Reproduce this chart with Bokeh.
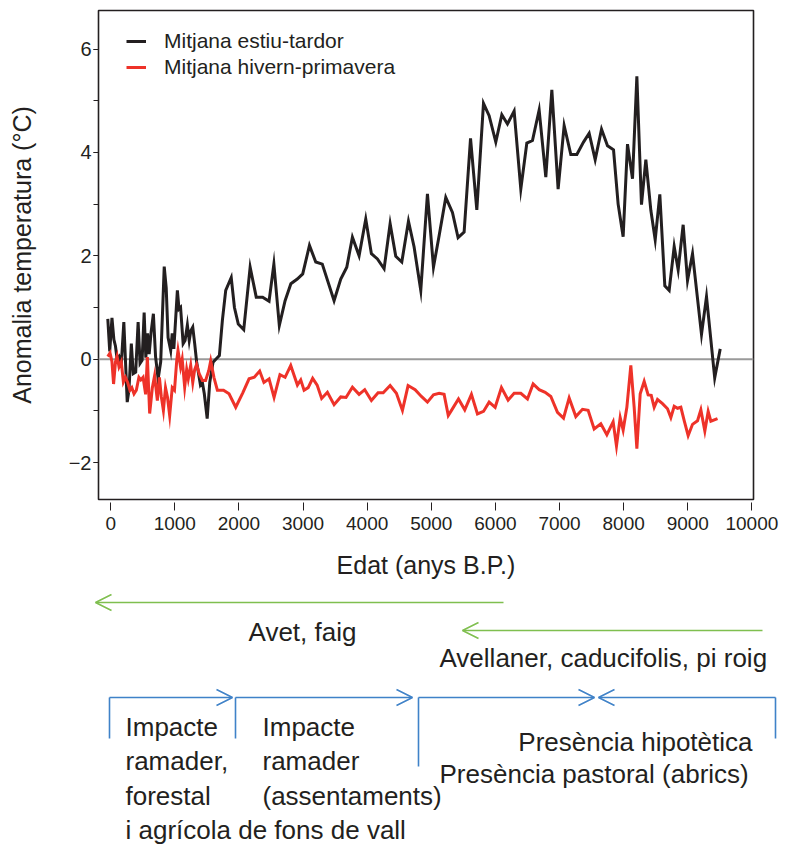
from bokeh.plotting import figure
from bokeh.models import (Range1d, Span, Legend, LegendItem, SingleIntervalTicker,
                          FixedTicker, Arrow, OpenHead, Label)
from bokeh.embed import file_html
from bokeh.resources import INLINE

# ---------------- data ----------------
age_summer = [-45, -15, 20, 50, 75, 100, 130, 165, 205, 258, 285, 322, 352, 390, 428, 458,
              490, 522, 548, 575, 600, 630, 666, 700, 740, 780, 835, 866, 895, 936, 960, 985,
              1040, 1066, 1090, 1130, 1160, 1196, 1225, 1250, 1280, 1310, 1340, 1400, 1430,
              1460, 1505, 1545, 1596, 1640, 1695, 1742, 1794, 1880, 1930, 1990, 2075, 2175,
              2270, 2370, 2470, 2545, 2630, 2720, 2810, 2910, 2995, 3100, 3198, 3300, 3484,
              3588, 3682, 3770, 3874, 3978, 4066, 4160, 4264, 4358, 4446, 4540, 4644, 4732,
              4836, 4940, 5034, 5122, 5226, 5330, 5418, 5512, 5612, 5710, 5814, 5902, 6006,
              6100, 6188, 6292, 6396, 6490, 6578, 6682, 6786, 6880, 6978, 7072, 7176, 7270,
              7374, 7462, 7556, 7655, 7748, 7842, 7914, 7992, 8060, 8138, 8206, 8278, 8346,
              8424, 8492, 8564, 8642, 8710, 8788, 8850, 8928, 8996, 9074, 9214, 9292, 9420,
              9506]
temp_summer = [0.78, 0.15, 0.80, 0.38, 0.25, 0.00, 0.05, -0.10, 0.72, -0.83, -0.60, 0.30,
               -0.28, -0.25, 0.72, -0.08, -0.02, 0.90, 0.03, 0.50, 0.10, 0.52, 0.88, 0.05,
               -0.38, -0.05, 1.79, 1.38, 0.42, 0.17, 0.50, 0.20, 1.33, 0.97, 1.00, 0.30,
               0.36, 0.66, 0.36, 0.55, 0.62, 0.30, -0.05, -0.50, -0.45, -0.67, -1.15, -0.45,
               -0.06, 0.00, 0.07, 0.75, 1.33, 1.58, 1.00, 0.68, 0.57, 1.78, 1.20, 1.20,
               1.12, 1.84, 0.65, 1.13, 1.46, 1.55, 1.65, 2.20, 1.88, 1.84, 1.13, 1.55, 1.78,
               2.36, 2.00, 2.71, 2.04, 1.94, 1.75, 2.62, 1.99, 1.88, 2.67, 2.17, 1.33, 3.20,
               1.78, 2.39, 3.13, 2.84, 2.35, 2.46, 4.27, 2.89, 4.95, 4.71, 4.20, 4.73, 4.55,
               4.80, 3.29, 4.18, 4.23, 4.82, 3.52, 5.21, 3.29, 4.52, 3.96, 3.96, 4.20, 4.37,
               3.86, 4.45, 4.13, 4.05, 3.00, 2.37, 4.16, 3.49, 5.47, 2.99, 3.86, 2.88, 2.31,
               3.19, 1.42, 1.33, 2.18, 1.73, 2.60, 1.52, 2.04, 0.48, 1.21, -0.36, 0.20]

age_winter = [-45, -10, 20, 45, 75, 100, 130, 165, 198, 230, 265, 300, 330, 364, 400, 440,
              470, 505, 545, 572, 608, 650, 685, 728, 760, 790, 822, 855, 885, 920, 960, 995,
              1030, 1050, 1090, 1115, 1154, 1185, 1210, 1248, 1280, 1310, 1340, 1380, 1430,
              1480, 1530, 1560, 1610, 1664, 1760, 1846, 1950, 2060, 2158, 2240, 2324, 2390,
              2470, 2548, 2640, 2720, 2808, 2912, 2964, 3016, 3080, 3150, 3220, 3290, 3380,
              3484, 3588, 3670, 3770, 3874, 3962, 4066, 4170, 4250, 4358, 4456, 4550, 4638,
              4748, 4846, 4940, 5034, 5122, 5200, 5265, 5310, 5424, 5522, 5626, 5720, 5814,
              5902, 5996, 6094, 6198, 6292, 6396, 6500, 6588, 6682, 6776, 6864, 6968, 7062,
              7150, 7254, 7358, 7446, 7540, 7644, 7738, 7836, 7888, 7946, 7992, 8050, 8112,
              8164, 8206, 8258, 8320, 8382, 8430, 8476, 8528, 8606, 8684, 8736, 8788, 8840,
              8892, 8944, 9006, 9074, 9152, 9204, 9266, 9318, 9360, 9464]
temp_winter = [0.05, 0.12, -0.05, -0.48, -0.05, 0.06, -0.15, -0.05, -0.44, -0.35, -0.45,
               -0.60, -0.55, -0.67, -0.60, -0.35, -0.40, -0.35, -0.68, 0.04, -1.05, -0.55,
               -0.32, -0.80, -0.35, -0.73, -0.99, -0.55, -0.73, -1.09, -0.55, -0.60, -0.03,
               0.17, -0.15, 0.00, -0.54, -0.20, -0.38, -0.12, -0.45, -0.20, -0.10, -0.28,
               -0.41, -0.41, -0.22, -0.03, -0.35, -0.60, -0.60, -0.67, -0.93, -0.65, -0.38,
               -0.35, -0.23, -0.45, -0.38, -0.74, -0.30, -0.35, -0.12, -0.50, -0.40, -0.60,
               -0.55, -0.37, -0.50, -0.76, -0.64, -0.88, -0.73, -0.74, -0.54, -0.68, -0.59,
               -0.80, -0.65, -0.65, -0.51, -0.66, -0.99, -0.51, -0.59, -0.72, -0.83, -0.69,
               -0.66, -0.68, -1.09, -1.00, -0.77, -0.98, -0.68, -1.06, -1.01, -0.83, -0.93,
               -0.55, -0.79, -0.66, -0.66, -0.77, -0.48, -0.59, -0.64, -0.72, -1.03, -1.14,
               -0.75, -1.11, -0.97, -0.99, -1.35, -1.25, -1.46, -1.21, -1.68, -1.13, -1.37,
               -0.93, -0.12, -0.93, -1.73, -0.67, -0.43, -0.69, -0.70, -0.93, -0.78, -0.86,
               -0.96, -1.13, -0.91, -0.95, -0.93, -1.19, -1.48, -1.26, -1.19, -0.98, -1.39,
               -1.01, -1.20, -1.15]

series_labels = ["Mitjana estiu-tardor", "Mitjana hivern-primavera"]
x_ticks = [0, 1000, 2000, 3000, 4000, 5000, 6000, 7000, 8000, 9000, 10000]
x_title = "Edat (anys B.P.)"
y_title = "Anomalia temperatura (°C)"

# annotation texts below the chart
green_texts = ["Avet, faig", "Avellaner, caducifolis, pi roig"]
col1_lines = ["Impacte", "ramader,", "forestal", "i agrícola de fons de vall"]
col2_lines = ["Impacte", "ramader", "(assentaments)"]
right_lines = ["Presència hipotètica", "Presència pastoral (abrics)"]

# ---------------- styles ----------------
FONT = "Liberation Sans"
INK = "#231f20"
RED = "#ee3229"
GREEN = "#7fbf4f"
BLUE = "#3f82c8"
W = 785
H1 = 593
H2 = 251

# ---------------- main chart ----------------
p = figure(width=W, height=H1, x_range=Range1d(-190, 10025), y_range=Range1d(-2.714, 6.745),
           output_backend="svg", toolbar_location=None,
           min_border_left=98, min_border_right=32, min_border_top=10, min_border_bottom=94)
p.grid.visible = False
p.outline_line_color = INK
p.outline_line_width = 1.6

p.add_layout(Span(location=0, dimension="width", line_color="#9a9a9a", line_width=2,
                  level="underlay"))

r1 = p.line(age_summer, temp_summer, line_color=INK, line_width=3, line_join="miter")
r2 = p.line(age_winter, temp_winter, line_color=RED, line_width=3, line_join="miter")

xa = p.xaxis[0]
xa.ticker = FixedTicker(ticks=x_ticks)
xa.axis_line_color = None
xa.major_tick_in = -3
xa.major_tick_out = 11
xa.minor_tick_line_color = None
xa.major_tick_line_color = INK
xa.major_label_text_font = FONT
xa.major_label_text_font_size = "19px"
xa.major_label_text_color = INK
xa.major_label_standoff = 6
xa.axis_label = x_title
xa.axis_label_text_font = FONT
xa.axis_label_text_font_size = "25px"
xa.axis_label_text_font_style = "normal"
xa.axis_label_text_color = INK
xa.axis_label_standoff = 18

ya = p.yaxis[0]
ya.ticker = SingleIntervalTicker(interval=2, num_minor_ticks=2)
ya.axis_line_color = None
ya.major_tick_in = 0
ya.major_tick_out = 5
ya.minor_tick_in = 0
ya.minor_tick_out = 5
ya.major_tick_line_color = INK
ya.minor_tick_line_color = INK
ya.major_label_text_font = FONT
ya.major_label_text_font_size = "20px"
ya.major_label_text_color = INK
ya.major_label_standoff = 2
ya.axis_label = y_title
ya.axis_label_text_font = FONT
ya.axis_label_text_font_size = "25px"
ya.axis_label_text_font_style = "normal"
ya.axis_label_text_color = INK
ya.axis_label_standoff = 30

legend = Legend(items=[LegendItem(label=series_labels[0], renderers=[r1]),
                       LegendItem(label=series_labels[1], renderers=[r2])],
                location=(28, 420), glyph_width=20, glyph_height=20, label_standoff=18,
                spacing=2, padding=10, margin=0,
                border_line_color=None, background_fill_alpha=0,
                label_text_font=FONT, label_text_font_size="21px", label_text_color=INK)
p.add_layout(legend)

# ---------------- annotation strip below (a separate root, full page width) ----------------
q = figure(width=W, height=H2, x_range=Range1d(0, W), y_range=Range1d(H1 + H2, H1),
           output_backend="svg", toolbar_location=None, x_axis_location=None,
           y_axis_location=None, min_border=0)
q.grid.visible = False
q.outline_line_color = None

def arrow(x0, y0, x1, y1, color, head=True):
    q.add_layout(Arrow(end=OpenHead(size=16, line_color=color, line_width=1.6) if head else None,
                       x_start=x0, y_start=y0, x_end=x1, y_end=y1,
                       line_color=color, line_width=1.6))

arrow(503, 602, 95, 602, GREEN)
arrow(762, 630, 462, 630, GREEN)

for xv, yb in zip([109, 235, 418, 775], [738, 738, 766, 738]):
    arrow(xv, 697, xv, yb, BLUE, head=False)
arrow(109, 697, 232, 697, BLUE)
arrow(235, 697, 412, 697, BLUE)
arrow(418, 697, 594, 697, BLUE)
arrow(775, 697, 598, 697, BLUE)

def label(x, y, text, align):
    q.add_layout(Label(x=x, y=y, text=text, text_font=FONT, text_font_size="26px",
                       text_align=align, text_baseline="middle", text_color=INK))

label(302, 631, green_texts[0], "center")
label(439, 657, green_texts[1], "left")
for yv, t in zip([726, 760, 795, 829], col1_lines):
    label(125, yv, t, "left")
for yv, t in zip([726, 760, 795], col2_lines):
    label(262, yv, t, "left")
label(752, 741, right_lines[0], "right")
label(439, 773, right_lines[1], "left")

open("out.html", "w").write(file_html([p, q], INLINE))
